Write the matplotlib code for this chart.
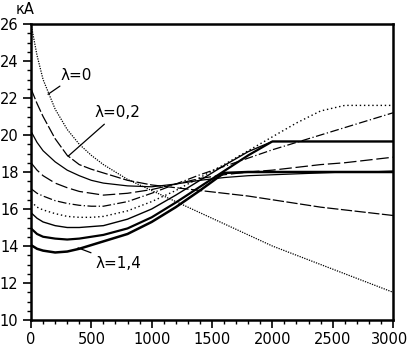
import numpy as np
import matplotlib
matplotlib.use("Agg")
import matplotlib.pyplot as plt
import matplotlib.transforms as mtransforms
from matplotlib.ticker import MultipleLocator

# distance grid (x axis)
dist = [0, 50, 100, 200, 300, 400, 500, 600, 800, 1000, 1200, 1400,
        1600, 1800, 2000, 2200, 2400, 2600, 2800, 3000]

# current, kA (top start -> bottom start)
c0 = [26.0, 24.3, 23.0, 21.4, 20.3, 19.5, 18.9, 18.4, 17.6, 17.0, 16.4, 15.8,
      15.2, 14.6, 14.0, 13.5, 13.0, 12.5, 12.0, 11.5]
c1 = [22.5, 21.7, 21.0, 19.8, 18.9, 18.4, 18.15, 17.95, 17.55, 17.3, 17.15, 17.0,
      16.85, 16.7, 16.5, 16.3, 16.1, 15.95, 15.8, 15.65]
c2 = [20.2, 19.6, 19.15, 18.55, 18.1, 17.8, 17.55, 17.4, 17.25, 17.2, 17.35, 17.55,
      17.7, 17.8, 17.85, 17.9, 17.95, 18.0, 18.0, 18.05]
c3 = [18.5, 18.1, 17.8, 17.4, 17.15, 16.95, 16.85, 16.75, 16.85, 17.05, 17.35, 17.65,
      17.85, 18.0, 18.1, 18.25, 18.4, 18.5, 18.65, 18.8]
c4 = [17.1, 16.85, 16.7, 16.45, 16.3, 16.2, 16.15, 16.15, 16.4, 16.85, 17.35, 17.85,
      18.3, 18.75, 19.2, 19.6, 20.0, 20.4, 20.8, 21.2]
c5 = [16.4, 16.1, 15.95, 15.75, 15.6, 15.55, 15.55, 15.6, 15.9, 16.4, 17.0, 17.7,
      18.4, 19.15, 19.9, 20.65, 21.3, 21.6, 21.6, 21.6]
c6 = [15.8, 15.5, 15.3, 15.1, 15.0, 15.0, 15.05, 15.1, 15.45, 16.0, 16.75, 17.55,
      18.35, 19.1, 19.65, 19.65, 19.65, 19.65, 19.65, 19.65]
c7 = [14.95, 14.65, 14.5, 14.4, 14.35, 14.4, 14.5, 14.6, 14.95, 15.55, 16.35, 17.2,
      18.05, 18.9, 19.65, 19.65, 19.65, 19.65, 19.65, 19.65]
c8 = [14.05, 13.85, 13.75, 13.65, 13.7, 13.85, 14.05, 14.25, 14.65, 15.3, 16.1, 17.0,
      17.95, 18.0, 18.0, 18.0, 18.0, 18.0, 18.0, 18.0]

xticks = [0, 500, 1000, 1500, 2000, 2500, 3000]
yticks = [10, 12, 14, 16, 18, 20, 22, 24, 26]

curves = [c0, c1, c2, c3, c4, c5, c6, c7, c8]
styles = [(0, (1, 1)), (0, (9, 2)), '-', (0, (10, 3)), (0, (7, 2, 1, 2)),
          (0, (1, 2)), '-', '-', '-']
widths = [0.9, 0.9, 0.9, 0.9, 0.9, 1.0, 1.0, 1.6, 1.8]

fig = plt.figure(figsize=(4.09, 3.46), dpi=100)
ax = fig.add_axes([31 / 409, 1 - 320 / 346, 362 / 409, 296 / 346])

for c, ls, lw in zip(curves, styles, widths):
    ax.plot(dist, c, color='k', linestyle=ls, linewidth=lw)

ax.set_xlim(0, 3000)
ax.set_ylim(10, 26)
ax.set_xticks(xticks)
ax.set_yticks(yticks)
ax.xaxis.set_minor_locator(MultipleLocator(100))
ax.yaxis.set_minor_locator(MultipleLocator(0.5))
ax.tick_params(which='major', direction='out', length=6, width=1.2,
               labelsize=10.5, pad=3)
ax.tick_params(which='minor', direction='out', length=3, width=1.0)
for s in ax.spines.values():
    s.set_linewidth(1.8)

# keep the "3000" label inside the picture
lab = ax.xaxis.get_major_ticks()[-1].label1
lab.set_transform(lab.get_transform() +
                  mtransforms.ScaledTranslation(-3 / 100, 0, fig.dpi_scale_trans))

fig.text(25 / 409, 1 - 9 / 346, 'кА', ha='center', va='center', fontsize=10.5)

arrow = dict(arrowstyle='-', color='k', lw=0.9, shrinkA=1, shrinkB=0)
ax.annotate('λ=0', xy=(141, 22.2), xytext=(373, 23.24), ha='center',
            va='center', fontsize=11, arrowprops=arrow)
ax.annotate('λ=0,2', xy=(307, 18.85), xytext=(713, 21.19), ha='center',
            va='center', fontsize=11, arrowprops=arrow)
ax.annotate('λ=1,4', xy=(390, 13.9), xytext=(721, 13.08), ha='center',
            va='center', fontsize=11, arrowprops=arrow)

fig.savefig('out.png', dpi=100)
